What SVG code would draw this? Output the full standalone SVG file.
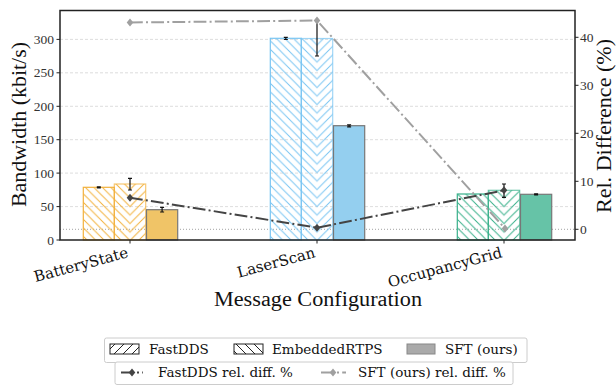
<svg xmlns="http://www.w3.org/2000/svg" width="616" height="385" viewBox="0 0 616 385">
<style>
.num{font-family:"Liberation Serif","Times New Roman",serif;font-size:13.5px;fill:#333}
.lab{font-family:"Liberation Serif","Times New Roman",serif;font-size:20px;fill:#111}
.xt{font-family:"DejaVu Serif",serif;font-size:15px;fill:#111}
.lg{font-family:"DejaVu Serif",serif;font-size:13.5px;fill:#111}
.grid{stroke:#d4d4d4;stroke-width:0.8;stroke-dasharray:3 2;fill:none}
.tick{stroke:#222;stroke-width:1}
.err{stroke:#111;stroke-width:1.2;fill:none}
.solid{stroke:#777;stroke-width:1.2}
.fast{stroke:#444;stroke-width:2;fill:none;stroke-dasharray:12.8 3.2 2 3.2}
.sft{stroke:#a0a0a0;stroke-width:2;fill:none;stroke-dasharray:12.8 3.2 2 3.2}
</style>
<defs>
<pattern id="bsO" patternUnits="userSpaceOnUse" width="8.5" height="8.5"><path d="M0,0 L8.5,8.5 M-2,6.5 L2,10.5 M6.5,-2 L10.5,2" stroke="#F2B13C" stroke-width="1"/></pattern>
<pattern id="bsB" patternUnits="userSpaceOnUse" width="8.5" height="8.5"><path d="M0,0 L8.5,8.5 M-2,6.5 L2,10.5 M6.5,-2 L10.5,2" stroke="#79C5F2" stroke-width="1"/></pattern>
<pattern id="bsG" patternUnits="userSpaceOnUse" width="8.5" height="8.5"><path d="M0,0 L8.5,8.5 M-2,6.5 L2,10.5 M6.5,-2 L10.5,2" stroke="#38B08A" stroke-width="1"/></pattern>
<pattern id="slO" patternUnits="userSpaceOnUse" width="8.5" height="8.5" patternTransform="translate(260,0) scale(-1,1)"><path d="M0,0 L8.5,8.5 M-2,6.5 L2,10.5 M6.5,-2 L10.5,2" stroke="#F2B13C" stroke-width="1"/></pattern>
<pattern id="slB" patternUnits="userSpaceOnUse" width="8.5" height="8.5" patternTransform="translate(634,0) scale(-1,1)"><path d="M0,0 L8.5,8.5 M-2,6.5 L2,10.5 M6.5,-2 L10.5,2" stroke="#79C5F2" stroke-width="1"/></pattern>
<pattern id="slG" patternUnits="userSpaceOnUse" width="8.5" height="8.5" patternTransform="translate(1008,0) scale(-1,1)"><path d="M0,0 L8.5,8.5 M-2,6.5 L2,10.5 M6.5,-2 L10.5,2" stroke="#38B08A" stroke-width="1"/></pattern>
<pattern id="lgF" patternUnits="userSpaceOnUse" width="9" height="9"><path d="M0,9 L9,0 M-2,2 L2,-2 M7,11 L11,7" stroke="#222" stroke-width="1"/></pattern>
<pattern id="lgE" patternUnits="userSpaceOnUse" width="9" height="9"><path d="M0,0 L9,9 M-2,7 L2,11 M7,-2 L11,2" stroke="#222" stroke-width="1"/></pattern>
<path id="dia" d="M0,-4 L3.3,0 L0,4 L-3.3,0Z"/>
</defs>
<rect width="616" height="385" fill="#fff"/>

<g id="grid">
<line class="grid" x1="60" x2="575" y1="206.6" y2="206.6"/>
<line class="grid" x1="60" x2="575" y1="173.1" y2="173.1"/>
<line class="grid" x1="60" x2="575" y1="139.7" y2="139.7"/>
<line class="grid" x1="60" x2="575" y1="106.3" y2="106.3"/>
<line class="grid" x1="60" x2="575" y1="72.8" y2="72.8"/>
<line class="grid" x1="60" x2="575" y1="39.4" y2="39.4"/>
<line x1="60" x2="575" y1="229.3" y2="229.3" stroke="#999" stroke-width="0.9" stroke-dasharray="1 2"/>
</g>

<g id="BatteryState">
<rect x="83.3" y="187.3" width="31" height="52.7" fill="url(#bsO)" stroke="#F2B13C" stroke-width="1.2"/>
<rect x="114.3" y="184" width="15.7" height="56" fill="url(#bsO)"/>
<rect x="130" y="184" width="15.7" height="56" fill="url(#slO)"/>
<rect x="114.3" y="184" width="31.4" height="56" fill="none" stroke="#F2B13C" stroke-opacity="0.7" stroke-width="1.2"/>
<rect x="146.5" y="209.7" width="31.2" height="30.3" fill="#F0C467" class="solid"/>
<path class="err" d="M98.8,186.8V188M96.8,186.8H100.8M96.8,188H100.8 M130,178.3V190M128,178.3H132M128,190H132 M162.1,207.3V212M160.1,207.3H164.1M160.1,212H164.1"/>
</g>

<g id="LaserScan">
<rect x="270.3" y="38.3" width="31" height="201.7" fill="url(#bsB)" stroke="#79C5F2" stroke-width="1.2"/>
<rect x="301.3" y="38.5" width="15.7" height="201.5" fill="url(#bsB)"/>
<rect x="317" y="38.5" width="15.7" height="201.5" fill="url(#slB)"/>
<rect x="301.3" y="38.5" width="31.4" height="201.5" fill="none" stroke="#79C5F2" stroke-opacity="0.7" stroke-width="1.2"/>
<rect x="333.5" y="125.7" width="31.2" height="114.3" fill="#94CFEF" class="solid"/>
<path class="err" d="M285.8,37.3V39.5M283.8,37.3H287.8M283.8,39.5H287.8 M317,21V56M315,21H319M315,56H319 M349.1,124.8V126.8M347.1,124.8H351.1M347.1,126.8H351.1"/>
</g>

<g id="OccupancyGrid">
<rect x="457.3" y="194" width="31" height="46" fill="url(#bsG)" stroke="#38B08A" stroke-width="1.2"/>
<rect x="488.3" y="190.3" width="15.7" height="49.7" fill="url(#bsG)"/>
<rect x="504" y="190.3" width="15.7" height="49.7" fill="url(#slG)"/>
<rect x="488.3" y="190.3" width="31.4" height="49.7" fill="none" stroke="#38B08A" stroke-opacity="0.7" stroke-width="1.2"/>
<rect x="520.5" y="194.3" width="31.2" height="45.7" fill="#66C3A7" class="solid"/>
<path class="err" d="M504,184V197.3M502,184H506M502,197.3H506 M536.1,193.8V194.8M534.1,193.8H538.1M534.1,194.8H538.1"/>
</g>

<g id="connectors">
<path class="sft" d="M130,22.5 L317,20.5 L505,228.5"/>
<g fill="#a0a0a0"><use href="#dia" x="130" y="22.5"/><use href="#dia" x="317" y="20.5"/><use href="#dia" x="505" y="228.5"/></g>
<path class="fast" d="M130,197.7 L317,227.7 L504,190.3"/>
<g fill="#444"><use href="#dia" x="130" y="197.7"/><use href="#dia" x="317" y="227.7"/><use href="#dia" x="504" y="190.3"/></g>
</g>

<g id="axes">
<rect x="60" y="10.5" width="515" height="229.5" fill="none" stroke="#222" stroke-width="1.5"/>
<path class="tick" d="M56.5,240H60M56.5,206.6H60M56.5,173.1H60M56.5,139.7H60M56.5,106.3H60M56.5,72.8H60M56.5,39.4H60"/>
<path class="tick" d="M575,229.3H578.5M575,181.3H578.5M575,133.3H578.5M575,85.3H578.5M575,37.3H578.5"/>
<path class="tick" d="M130,240V243.5M317,240V243.5M504,240V243.5"/>
<g class="num" text-anchor="end">
<text x="54" y="244.5">0</text>
<text x="54" y="211.1">50</text>
<text x="54" y="177.6">100</text>
<text x="54" y="144.2">150</text>
<text x="54" y="110.8">200</text>
<text x="54" y="77.3">250</text>
<text x="54" y="43.9">300</text>
</g>
<g class="num">
<text x="580" y="233.8">0</text>
<text x="580" y="185.8">10</text>
<text x="580" y="137.8">20</text>
<text x="580" y="89.8">30</text>
<text x="580" y="41.8">40</text>
</g>
<g class="xt" text-anchor="end">
<text x="129" y="257" transform="rotate(-15 129 257)">BatteryState</text>
<text x="316" y="257" transform="rotate(-15 316 257)">LaserScan</text>
<text x="503" y="257" transform="rotate(-15 503 257)">OccupancyGrid</text>
</g>
<text class="lab" x="318" y="306" text-anchor="middle" textLength="208" lengthAdjust="spacingAndGlyphs">Message Configuration</text>
<text class="lab" x="0" y="0" text-anchor="middle" textLength="165" lengthAdjust="spacingAndGlyphs" transform="translate(26 124.5) rotate(-90)">Bandwidth (kbit/s)</text>
<text class="lab" x="0" y="0" text-anchor="middle" textLength="174" lengthAdjust="spacingAndGlyphs" transform="translate(611 126) rotate(-90)">Rel. Difference (%)</text>
</g>

<g id="legend1">
<rect x="104.5" y="338" width="422.5" height="24.5" rx="2" fill="#fff" stroke="#ccc" stroke-width="1"/>
<rect x="110" y="344" width="29" height="10" fill="url(#lgF)" stroke="#222" stroke-width="1"/>
<text class="lg" x="149" y="353.8">FastDDS</text>
<rect x="234" y="344" width="29" height="10" fill="url(#lgE)" stroke="#222" stroke-width="1"/>
<text class="lg" x="272" y="353.8">EmbeddedRTPS</text>
<rect x="407" y="344" width="28" height="10" fill="#aaa" stroke="#888" stroke-width="1"/>
<text class="lg" x="445" y="353.8">SFT (ours)</text>
</g>

<g id="legend2">
<rect x="115" y="362" width="398" height="22.5" rx="2" fill="#fff" stroke="#ccc" stroke-width="1"/>
<line class="fast" x1="121" x2="143" y1="372.5" y2="372.5" stroke-dasharray="none"/>
<use href="#dia" x="132" y="372.5" fill="#444"/>
<text class="lg" x="158" y="377">FastDDS rel. diff. %</text>
<line class="sft" x1="321" x2="346" y1="372.5" y2="372.5" stroke-dasharray="none"/>
<use href="#dia" x="333" y="372.5" fill="#a0a0a0"/>
<text class="lg" x="358" y="377">SFT (ours) rel. diff. %</text>
</g>
</svg>
